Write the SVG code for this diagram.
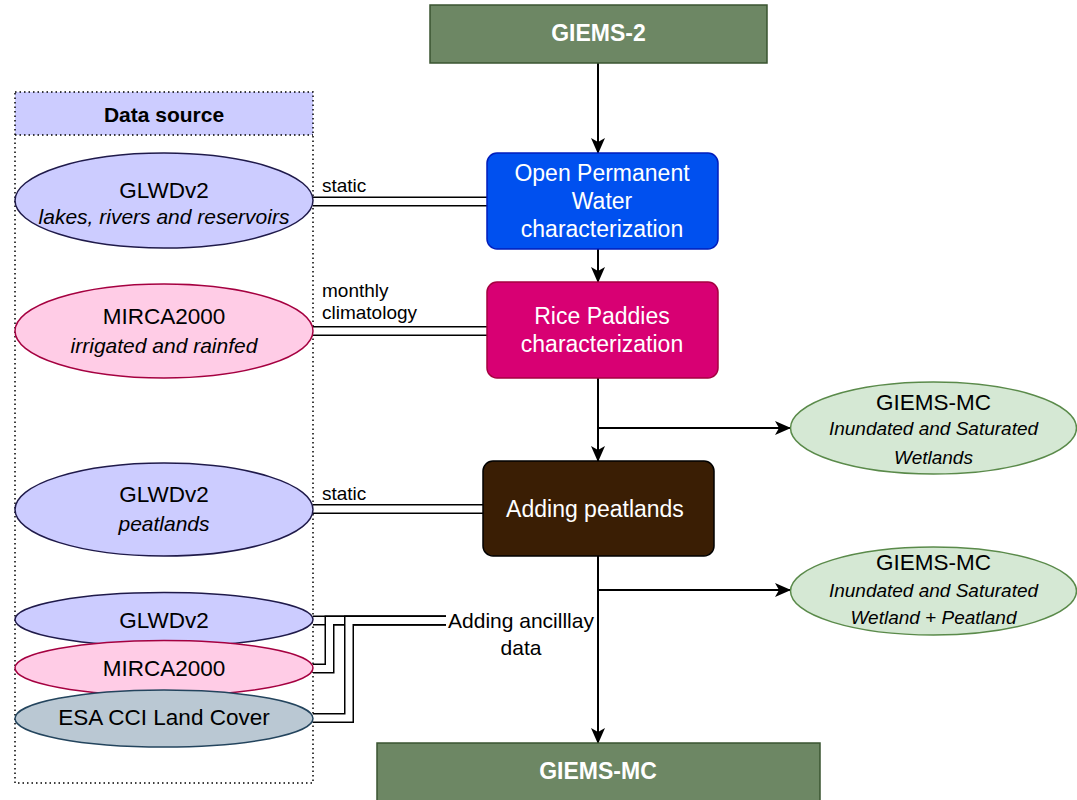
<svg xmlns="http://www.w3.org/2000/svg" width="1077" height="800" viewBox="0 0 1077 800">
<style>
text{font-family:"Liberation Sans",Arial,sans-serif;}
.w{fill:#ffffff;font-size:23px;text-anchor:middle;}
.b{fill:#000000;font-size:22.5px;text-anchor:middle;}
.bi{fill:#000000;font-size:21px;font-style:italic;text-anchor:middle;}
.gi{fill:#000000;font-size:19px;font-style:italic;text-anchor:middle;}
.lbl{fill:#000000;font-size:19px;}
.bold{font-weight:bold;}
.conn{fill:none;stroke:#000000;stroke-width:2;}
.dbl-o{fill:none;stroke:#000000;stroke-width:10;}
.dbl-i{fill:none;stroke:#ffffff;stroke-width:7;}
</style>
<defs>
<marker id="arr" markerUnits="userSpaceOnUse" markerWidth="16" markerHeight="14" viewBox="0 0 16 14" refX="15" refY="7" orient="auto">
<path d="M0,0 L16,7 L0,14 L4,7 z" fill="#000000"/>
</marker>
</defs>
<rect width="1077" height="800" fill="#ffffff"/>

<g id="data-source">
<rect x="15" y="92" width="298" height="43" fill="#ccccff"/>
<rect x="15" y="92" width="298" height="691" fill="none" stroke="#000000" stroke-width="1.5" stroke-dasharray="1.5,3"/>
<line x1="15" y1="135" x2="313" y2="135" stroke="#000000" stroke-width="1.5" stroke-dasharray="1.5,3"/>
<text x="164" y="122" class="b bold" style="font-size:21px">Data source</text>
</g>

<g id="connectors">
<path class="dbl-o" d="M313,201.5 H487"/>
<path class="dbl-i" d="M313,201.5 H487"/>
<path class="dbl-o" d="M313,331 H487"/>
<path class="dbl-i" d="M313,331 H487"/>
<path class="dbl-o" d="M313,509 H483"/>
<path class="dbl-i" d="M313,509 H483"/>
<path class="dbl-o" d="M313,620.5 H446"/>
<path class="dbl-i" d="M313,620.5 H446"/>
<path class="dbl-o" d="M313,668.5 H329.5 V620.5 H446"/>
<path class="dbl-i" d="M313,668.5 H329.5 V620.5 H446"/>
<path class="dbl-o" d="M313,718 H349 V620.5 H446"/>
<path class="dbl-i" d="M313,718 H349 V620.5 H446"/>
<line class="conn" x1="598" y1="63" x2="598" y2="153" marker-end="url(#arr)"/>
<line class="conn" x1="598" y1="249" x2="598" y2="282" marker-end="url(#arr)"/>
<line class="conn" x1="598" y1="378" x2="598" y2="461" marker-end="url(#arr)"/>
<line class="conn" x1="598" y1="428" x2="790" y2="428" marker-end="url(#arr)"/>
<line class="conn" x1="598" y1="556" x2="598" y2="743" marker-end="url(#arr)"/>
<line class="conn" x1="598" y1="590" x2="790" y2="590" marker-end="url(#arr)"/>
<text x="322" y="192" class="lbl">static</text>
<text x="322" y="297" class="lbl">monthly</text>
<text x="322" y="319" class="lbl">climatology</text>
<text x="322" y="500" class="lbl">static</text>
<text x="521" y="628" class="lbl" style="font-size:21px" text-anchor="middle">Adding ancilllay</text>
<text x="521" y="655" class="lbl" style="font-size:21px" text-anchor="middle">data</text>
</g>

<g id="giems2">
<rect x="430" y="5" width="337" height="58" fill="#6d8764" stroke="#3a5431" stroke-width="1.5"/>
<text x="598.5" y="41" class="w bold">GIEMS-2</text>
</g>

<g id="open-water">
<rect x="487" y="153" width="231" height="96" rx="10" fill="#0050ef" stroke="#001dbc" stroke-width="1.5"/>
<text x="602" y="181" class="w">Open Permanent</text>
<text x="602" y="209" class="w">Water</text>
<text x="602" y="237" class="w">characterization</text>
</g>

<g id="rice">
<rect x="487" y="282" width="231" height="96" rx="10" fill="#d80073" stroke="#a50040" stroke-width="1.5"/>
<text x="602" y="324" class="w">Rice Paddies</text>
<text x="602" y="352" class="w">characterization</text>
</g>

<g id="peatlands">
<rect x="483" y="461" width="231" height="95" rx="10" fill="#3a1e04" stroke="#000000" stroke-width="1.5"/>
<text x="595" y="517" class="w">Adding peatlands</text>
</g>

<g id="giems-mc">
<rect x="377" y="743" width="443" height="70" fill="#6d8764" stroke="#3a5431" stroke-width="1.5"/>
<text x="598" y="779" class="w bold">GIEMS-MC</text>
</g>

<g id="glwd-lakes">
<ellipse cx="164" cy="200.5" rx="149" ry="47.5" fill="#ccccff" stroke="#1f1a4a" stroke-width="1.5"/>
<text x="164" y="198" class="b">GLWDv2</text>
<text x="164" y="224" class="bi">lakes, rivers and reservoirs</text>
</g>

<g id="mirca">
<ellipse cx="164" cy="331" rx="149" ry="47" fill="#ffcce6" stroke="#a50040" stroke-width="1.5"/>
<text x="164" y="324" class="b">MIRCA2000</text>
<text x="164" y="353" class="bi">irrigated and rainfed</text>
</g>

<g id="glwd-peat">
<ellipse cx="164" cy="509.5" rx="149" ry="46.5" fill="#ccccff" stroke="#1f1a4a" stroke-width="1.5"/>
<text x="164" y="502" class="b">GLWDv2</text>
<text x="164" y="531" class="bi">peatlands</text>
</g>

<g id="glwd-small">
<ellipse cx="164" cy="619.5" rx="149" ry="27" fill="#ccccff" stroke="#1f1a4a" stroke-width="1.5"/>
<text x="164" y="628" class="b">GLWDv2</text>
</g>

<g id="mirca-small">
<ellipse cx="164" cy="668" rx="149" ry="27.5" fill="#ffcce6" stroke="#a50040" stroke-width="1.5"/>
<text x="164" y="676" class="b">MIRCA2000</text>
</g>

<g id="esa">
<ellipse cx="164" cy="718.5" rx="149" ry="28.5" fill="#bac8d3" stroke="#23445d" stroke-width="1.5"/>
<text x="164" y="725" class="b">ESA CCI Land Cover</text>
</g>

<g id="out-wetlands">
<ellipse cx="933.5" cy="428" rx="143" ry="46" fill="#d5e8d4" stroke="#5a8a4a" stroke-width="1.5"/>
<text x="933.5" y="410" class="b">GIEMS-MC</text>
<text x="933.5" y="435" class="gi">Inundated and Saturated</text>
<text x="933.5" y="464" class="gi">Wetlands</text>
</g>

<g id="out-peat">
<ellipse cx="933.5" cy="591" rx="143" ry="44" fill="#d5e8d4" stroke="#5a8a4a" stroke-width="1.5"/>
<text x="933.5" y="570" class="b">GIEMS-MC</text>
<text x="933.5" y="597" class="gi">Inundated and Saturated</text>
<text x="933.5" y="624" class="gi">Wetland + Peatland</text>
</g>
</svg>
